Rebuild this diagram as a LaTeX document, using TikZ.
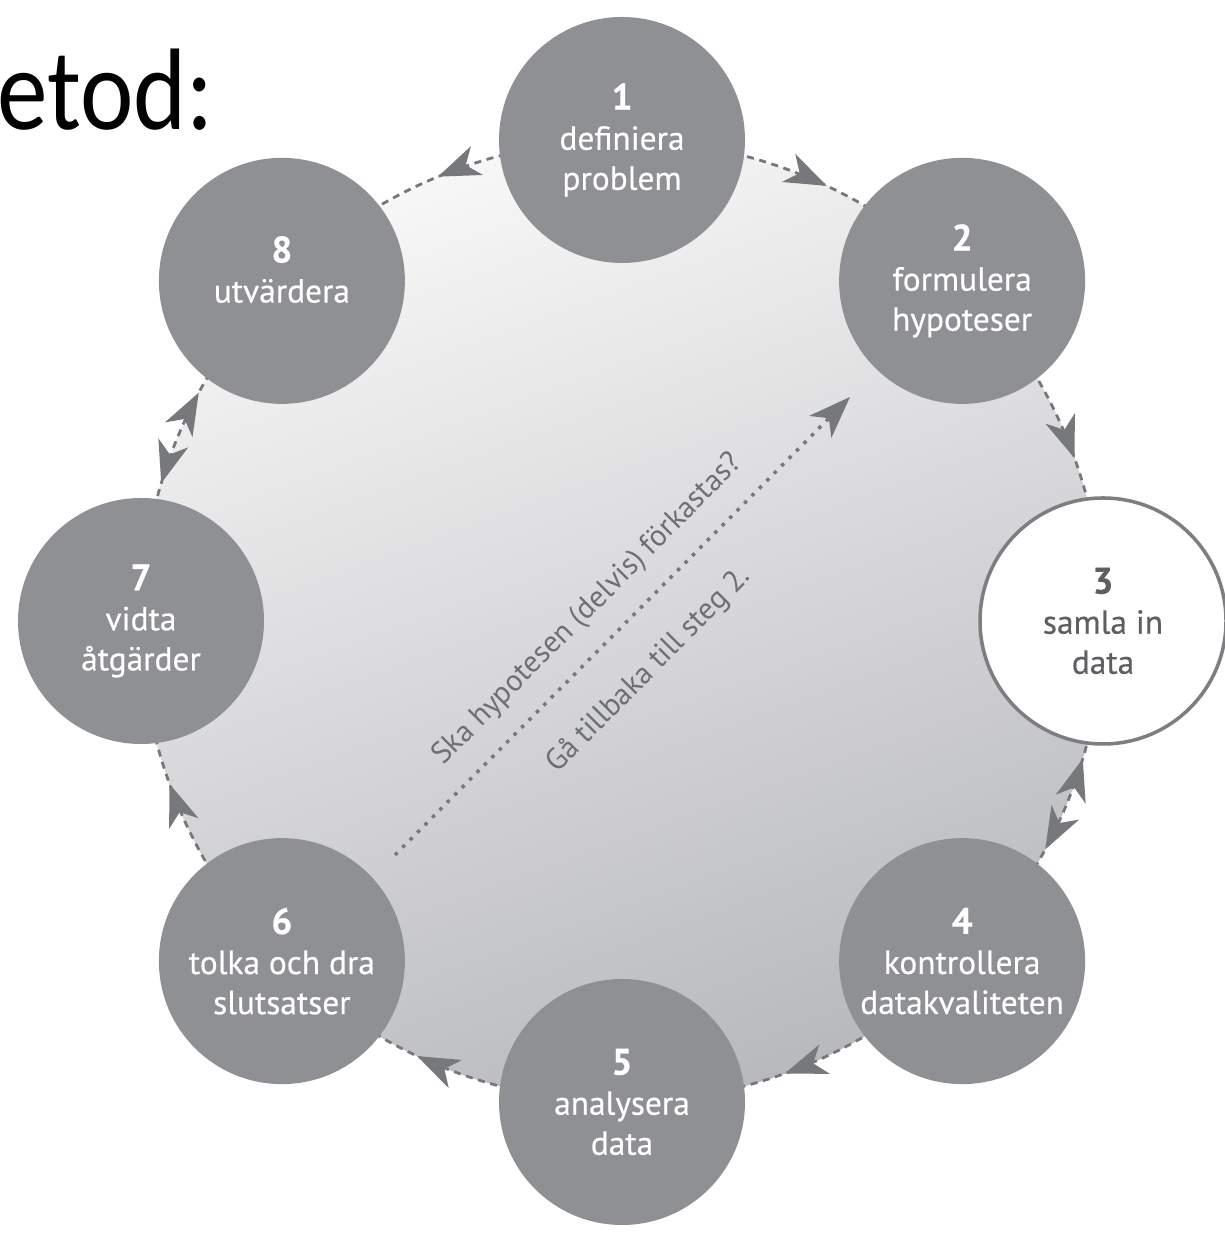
\documentclass[tikz,border=0pt]{standalone}
\usepackage{graphicx}
\usepackage{fontspec}
\setmainfont{PT Sans}
\newfontfamily\titlefont{Carlito}
\usetikzlibrary{arrows.meta,decorations.markings,backgrounds}
\definecolor{stagegray}{HTML}{8F9094}
\definecolor{rimgray}{HTML}{7D7E82}
\definecolor{linegray}{HTML}{77787C}
\definecolor{labelgray}{HTML}{5E5F63}
\definecolor{notegray}{HTML}{6E6F73}
\definecolor{disctop}{HTML}{F7F7F7}
\definecolor{discmid}{HTML}{CBCBCE}
\definecolor{discbot}{HTML}{B8B9BD}
\newcommand\stepnum[1]{{\fontsize{10.5}{11.4}\selectfont\bfseries #1}}

\begin{document}
\begin{tikzpicture}[
    >={Stealth[length=4.2mm,width=3.1mm,inset=1.2mm]},
    stage/.style={circle, fill=stagegray, minimum size=2.46cm, inner sep=0pt,
      align=center, text=white,
      font=\fontsize{9.5}{11.4}\selectfont\addfontfeature{FakeBold=0.4}},
    stagewhite/.style={stage, fill=white, draw=rimgray, line width=1pt, text=labelgray},
    flow/.style={linegray, line width=0.8pt, dash pattern=on 2pt off 1.6pt,
      bend left=22.5, looseness=0.885, postaction=decorate},
    fwd/.style={decoration={markings, mark=at position 0.56 with {\arrow{>}}}},
    bwd/.style={decoration={markings, mark=at position 0.5 with {\arrowreversed{>}}}},
    both/.style={decoration={markings, mark=at position 0.37 with {\arrowreversed{>}},
      mark=at position 0.63 with {\arrow{>}}}},
    retur/.style={linegray, line width=1pt, dash pattern=on 1pt off 2pt,
      -{Stealth[length=4.2mm,width=3.1mm,inset=1.2mm]}},
    note/.style={font=\fontsize{8.6}{10}\selectfont, text=notegray, inner sep=0pt}
  ]
  \useasboundingbox (0,0) rectangle (12.25,12.36);
  \node[anchor=base west, inner sep=0pt] (title) at (-0.03,11.06)
    {\titlefont\scalebox{0.96}[1.1]{\fontsize{30}{30}\selectfont etod:}};

  \begin{scope}[shift={(6.22,6.15)}]
    \coordinate (O) at (0,0);
    \foreach \n/\st/\txt in {1/stage/{definiera\\problem},
        2/stage/{formulera\\hypoteser},
        3/stagewhite/{samla in\\data},
        4/stage/{kontrollera\\datakvaliteten},
        5/stage/{analysera\\data},
        6/stage/{tolka och dra\\slutsatser},
        7/stage/{vidta\\åtgärder},
        8/stage/{utvärdera\\[-0.17cm]\mbox{}}}
      \node[\st] (s\n) at ({135-45*\n}:4.81) {\stepnum{\n}\\\txt};
  \end{scope}

  \begin{scope}[on background layer]
    \shade[top color=disctop, middle color=discmid, bottom color=discbot,
      shading angle=20] (O) circle (4.81);
    \foreach \a/\b/\k in {1/2/fwd, 2/3/fwd, 3/4/both, 4/5/fwd,
        5/6/fwd, 6/7/fwd, 7/8/both, 8/1/bwd}
      \draw[flow,\k] (s\a.center) to (s\b.center);
  \end{scope}

  \coordinate (q0) at (3.95,3.81);
  \coordinate (q1) at (8.50,8.39);
  \draw[retur] (q0) -- (q1)
    node[note, pos=0.48, sloped, above=2mm] {Ska hypotesen (delvis) förkastas?}
    node[note, pos=0.48, sloped, below=3.4mm] {Gå tillbaka till steg 2.};
\end{tikzpicture}
\end{document}
